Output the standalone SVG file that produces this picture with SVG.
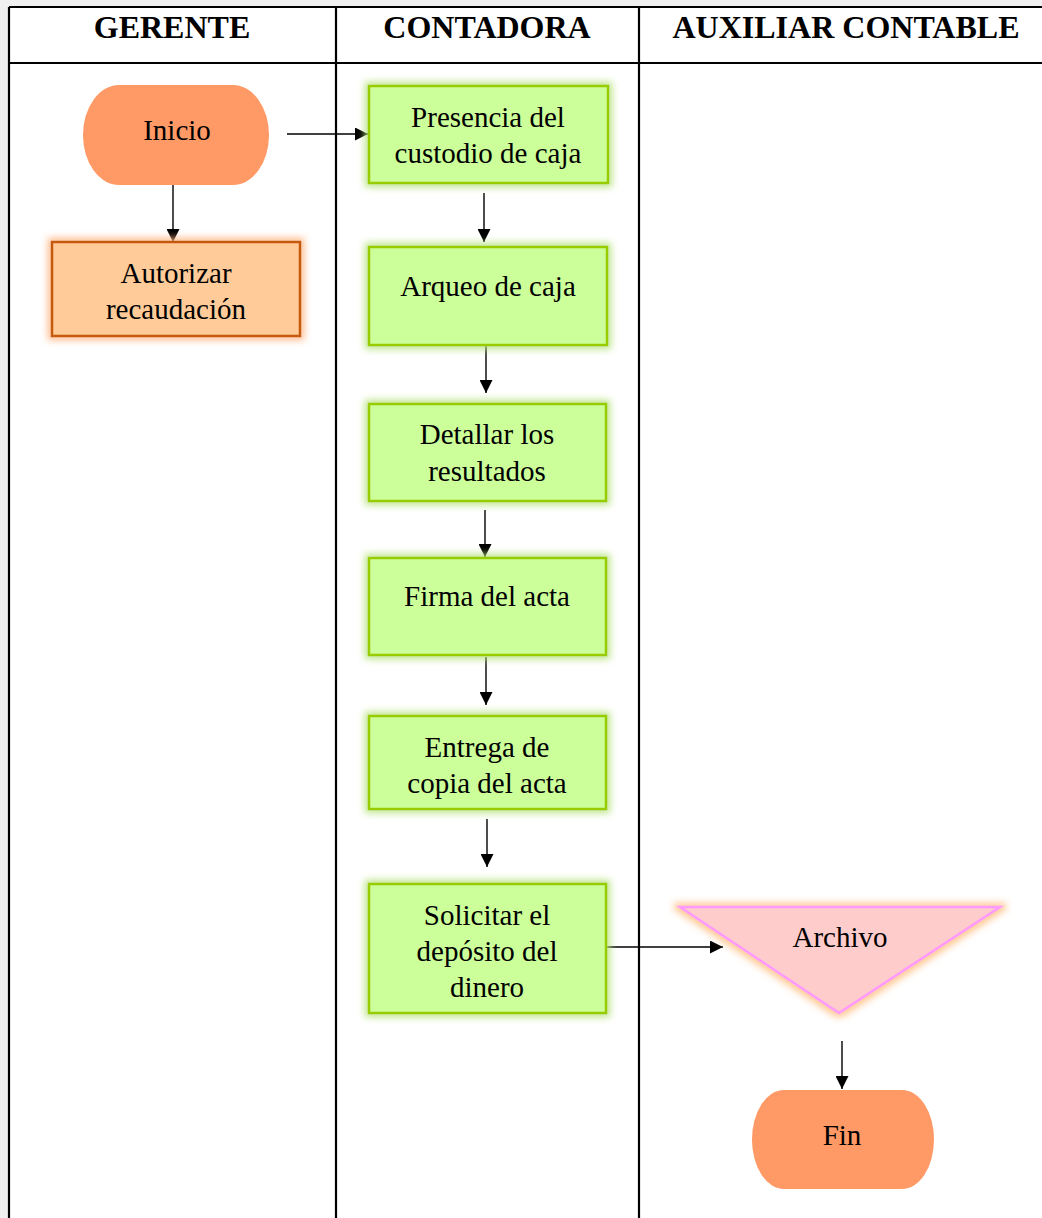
<svg xmlns="http://www.w3.org/2000/svg" width="1042" height="1218" viewBox="0 0 1042 1218">
<style>
.hdr{font-family:"Liberation Serif","Times New Roman",serif;font-weight:bold;font-size:32px;fill:#000;text-anchor:middle}
.t{font-family:"Liberation Serif","Times New Roman",serif;font-size:29px;fill:#000;text-anchor:middle}
.grid{stroke:#000;stroke-width:2.2;fill:none}
.conn{stroke:#000;stroke-width:1.4;fill:none}
.green{fill:#CCFF99;stroke:#99CC00;stroke-width:2.5}
.term{fill:#FF9966}
</style>
<defs>
<filter id="glowG" x="-20%" y="-20%" width="140%" height="140%">
<feMorphology in="SourceAlpha" operator="dilate" radius="3" result="d"/>
<feGaussianBlur in="d" stdDeviation="3.5" result="b"/>
<feFlood flood-color="#b6e27a" flood-opacity="0.85"/>
<feComposite in2="b" operator="in" result="g"/>
<feMerge><feMergeNode in="g"/><feMergeNode in="SourceGraphic"/></feMerge>
</filter>
<filter id="glowO" x="-20%" y="-20%" width="140%" height="140%">
<feMorphology in="SourceAlpha" operator="dilate" radius="3" result="d"/>
<feGaussianBlur in="d" stdDeviation="3.5" result="b"/>
<feFlood flood-color="#ffb380" flood-opacity="0.85"/>
<feComposite in2="b" operator="in" result="g"/>
<feMerge><feMergeNode in="g"/><feMergeNode in="SourceGraphic"/></feMerge>
</filter>
<filter id="glowT" x="-20%" y="-20%" width="140%" height="140%">
<feMorphology in="SourceAlpha" operator="dilate" radius="3" result="d"/>
<feGaussianBlur in="d" stdDeviation="3.5" result="b"/>
<feFlood flood-color="#ffc690" flood-opacity="0.95"/>
<feComposite in2="b" operator="in" result="g"/>
<feMerge><feMergeNode in="g"/><feMergeNode in="SourceGraphic"/></feMerge>
</filter>
<marker id="ah" viewBox="0 0 10 10" refX="10" refY="5" markerUnits="userSpaceOnUse" markerWidth="14" markerHeight="13" orient="auto">
<path d="M0,0 L10,5 L0,10 Z" fill="#000"/>
</marker>
</defs>

<rect x="0" y="0" width="1042" height="1218" fill="#f0f0f0"/>
<rect x="9" y="7" width="1040" height="1220" fill="#fff"/>

<g id="table">
<line class="grid" x1="9" y1="7" x2="1042" y2="7"/>
<line class="grid" x1="9" y1="7" x2="9" y2="1218"/>
<line class="grid" x1="9" y1="63" x2="1042" y2="63"/>
<line class="grid" x1="336" y1="7" x2="336" y2="1218"/>
<line class="grid" x1="639" y1="7" x2="639" y2="1218"/>
<text class="hdr" x="172" y="38">GERENTE</text>
<text class="hdr" x="487" y="38">CONTADORA</text>
<text class="hdr" x="846" y="38">AUXILIAR CONTABLE</text>
</g>

<g id="connectors">
<line class="conn" x1="287" y1="134" x2="368" y2="134" marker-end="url(#ah)"/>
<line class="conn" x1="173" y1="184" x2="173" y2="242" marker-end="url(#ah)"/>
<line class="conn" x1="484" y1="193" x2="484" y2="242" marker-end="url(#ah)"/>
<line class="conn" x1="486" y1="345" x2="486" y2="393" marker-end="url(#ah)"/>
<line class="conn" x1="485" y1="510" x2="485" y2="557" marker-end="url(#ah)"/>
<line class="conn" x1="486" y1="657" x2="486" y2="705" marker-end="url(#ah)"/>
<line class="conn" x1="487" y1="819" x2="487" y2="867" marker-end="url(#ah)"/>
<line class="conn" x1="607" y1="947" x2="723" y2="947" marker-end="url(#ah)"/>
<line class="conn" x1="842" y1="1041" x2="842" y2="1089" marker-end="url(#ah)"/>
</g>

<g id="inicio">
<rect class="term" x="83" y="85" width="186" height="100" rx="36" ry="50"/>
<text class="t" x="177" y="140">Inicio</text>
</g>

<g id="autorizar">
<rect x="52" y="242" width="248" height="94" fill="#FFCC99" stroke="#C55A11" stroke-width="2.5" filter="url(#glowO)"/>
<text class="t" x="176" y="283">Autorizar</text>
<text class="t" x="176" y="319">recaudación</text>
</g>

<g id="presencia">
<rect class="green" x="369" y="86" width="239" height="97" filter="url(#glowG)"/>
<text class="t" x="488" y="127">Presencia del</text>
<text class="t" x="488" y="163">custodio de caja</text>
</g>

<g id="arqueo">
<rect class="green" x="369" y="247" width="238" height="98" filter="url(#glowG)"/>
<text class="t" x="488" y="296">Arqueo de caja</text>
</g>

<g id="detallar">
<rect class="green" x="369" y="404" width="237" height="97" filter="url(#glowG)"/>
<text class="t" x="487" y="444">Detallar los</text>
<text class="t" x="487" y="481">resultados</text>
</g>

<g id="firma">
<rect class="green" x="369" y="558" width="237" height="97" filter="url(#glowG)"/>
<text class="t" x="487" y="606">Firma del acta</text>
</g>

<g id="entrega">
<rect class="green" x="369" y="716" width="237" height="93" filter="url(#glowG)"/>
<text class="t" x="487" y="757">Entrega de</text>
<text class="t" x="487" y="793">copia del acta</text>
</g>

<g id="solicitar">
<rect class="green" x="369" y="884" width="237" height="129" filter="url(#glowG)"/>
<text class="t" x="487" y="925">Solicitar el</text>
<text class="t" x="487" y="961">depósito del</text>
<text class="t" x="487" y="997">dinero</text>
</g>

<g id="archivo">
<polygon points="680,907 1000,907 839,1013" fill="#FFCCCC" stroke="#FF99FF" stroke-width="2.5" stroke-linejoin="miter" filter="url(#glowT)"/>
<text class="t" x="840" y="947">Archivo</text>
</g>

<g id="fin">
<rect class="term" x="752" y="1090" width="182" height="99" rx="32" ry="49.5"/>
<text class="t" x="842" y="1145">Fin</text>
</g>
</svg>
